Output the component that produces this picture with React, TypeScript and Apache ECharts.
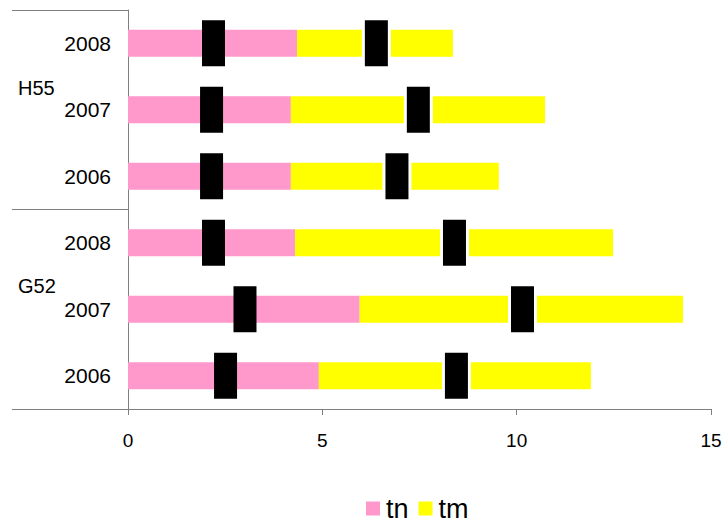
import React, { useEffect, useRef } from "react";
import * as echarts from "echarts";

const groups = ["H55", "G52"];
const years = ["2008", "2007", "2006", "2008", "2007", "2006"];
const categories = ["H55-2008", "H55-2007", "H55-2006", "G52-2008", "G52-2007", "G52-2006"];
const tnValues = [4.35, 4.19, 4.19, 4.3, 5.96, 4.91];
const tmValues = [4.01, 6.54, 5.35, 8.18, 8.32, 7.0];
const marker1 = [2.2, 2.15, 2.15, 2.2, 3.01, 2.51];
const marker2 = [6.39, 7.47, 6.92, 8.4, 10.15, 8.45];
const xMin = 0;
const xMax = 15;
const xInterval = 5;

const FONT = "'Liberation Sans', Arial, sans-serif";
const AXIS = "#7f7f7f";

function markerRender(gap: number) {
  return (params: any, api: any) => {
    const pt = api.coord([api.value(0), api.value(1)]);
    const w = 23;
    const h = 46;
    const children: any[] = [];
    if (gap > 0) {
      children.push({
        type: "rect",
        shape: { x: pt[0] - w / 2 - gap, y: pt[1] - 15, width: w + 2 * gap, height: 30 },
        style: { fill: "#ffffff" },
      });
    }
    children.push({
      type: "rect",
      shape: { x: pt[0] - w / 2, y: pt[1] - h / 2, width: w, height: h },
      style: { fill: "#000000" },
    });
    return { type: "group", children };
  };
}

export default function App() {
  const ref = useRef<HTMLDivElement>(null);
  useEffect(() => {
    document.body.style.margin = "0";
    const chart = echarts.init(ref.current!, null, { renderer: "svg" });
    chart.setOption({
      animation: false,
      backgroundColor: "#ffffff",
      grid: { left: 128, top: 10, width: 583, height: 399, containLabel: false },
      legend: {
        data: ["tn", "tm"],
        left: 366,
        top: 495,
        padding: 0,
        icon: "rect",
        itemWidth: 14,
        itemHeight: 14,
        itemGap: 10,
        textStyle: { fontSize: 27, fontFamily: FONT, color: "#000", padding: [0, 0, 0, 1] },
      },
      xAxis: {
        type: "value",
        min: xMin,
        max: xMax,
        interval: xInterval,
        axisLine: { show: true, lineStyle: { color: AXIS, width: 1 } },
        axisTick: { show: true, inside: false, length: 6, lineStyle: { color: AXIS } },
        splitLine: { show: false },
        axisLabel: { fontSize: 19, fontFamily: FONT, color: "#000", margin: 22 },
      },
      yAxis: {
        type: "category",
        inverse: true,
        data: categories,
        axisLine: { show: true, lineStyle: { color: AXIS, width: 1 } },
        axisTick: { show: false },
        axisLabel: {
          fontSize: 21,
          fontFamily: FONT,
          color: "#000",
          margin: 17,
          formatter: (v: string) => years[categories.indexOf(v)],
        },
      },
      graphic: [
        { type: "line", shape: { x1: 12, y1: 10.5, x2: 128, y2: 10.5 }, style: { stroke: AXIS, lineWidth: 1 } },
        { type: "line", shape: { x1: 12, y1: 209.5, x2: 128, y2: 209.5 }, style: { stroke: AXIS, lineWidth: 1 } },
        { type: "line", shape: { x1: 12, y1: 409.5, x2: 128, y2: 409.5 }, style: { stroke: AXIS, lineWidth: 1 } },
        {
          type: "text",
          x: 18,
          y: 88,
          style: { text: groups[0], fontSize: 20, fontFamily: FONT, fill: "#000", verticalAlign: "middle" },
        },
        {
          type: "text",
          x: 18,
          y: 286,
          style: { text: groups[1], fontSize: 20, fontFamily: FONT, fill: "#000", verticalAlign: "middle" },
        },
      ],
      series: [
        {
          name: "tn",
          type: "bar",
          stack: "t",
          barWidth: 27,
          data: tnValues,
          itemStyle: { color: "#ff99cc" },
        },
        {
          name: "tm",
          type: "bar",
          stack: "t",
          barWidth: 27,
          data: tmValues,
          itemStyle: { color: "#ffff00" },
        },
        {
          name: "m1",
          type: "custom",
          renderItem: markerRender(0),
          data: marker1.map((v, i) => [v, i]),
          encode: { x: 0, y: 1 },
          z: 5,
        },
        {
          name: "m2",
          type: "custom",
          renderItem: markerRender(3),
          data: marker2.map((v, i) => [v, i]),
          encode: { x: 0, y: 1 },
          z: 5,
        },
      ],
    });
    return () => chart.dispose();
  }, []);
  return <div ref={ref} style={{ width: 726, height: 526 }} />;
}
